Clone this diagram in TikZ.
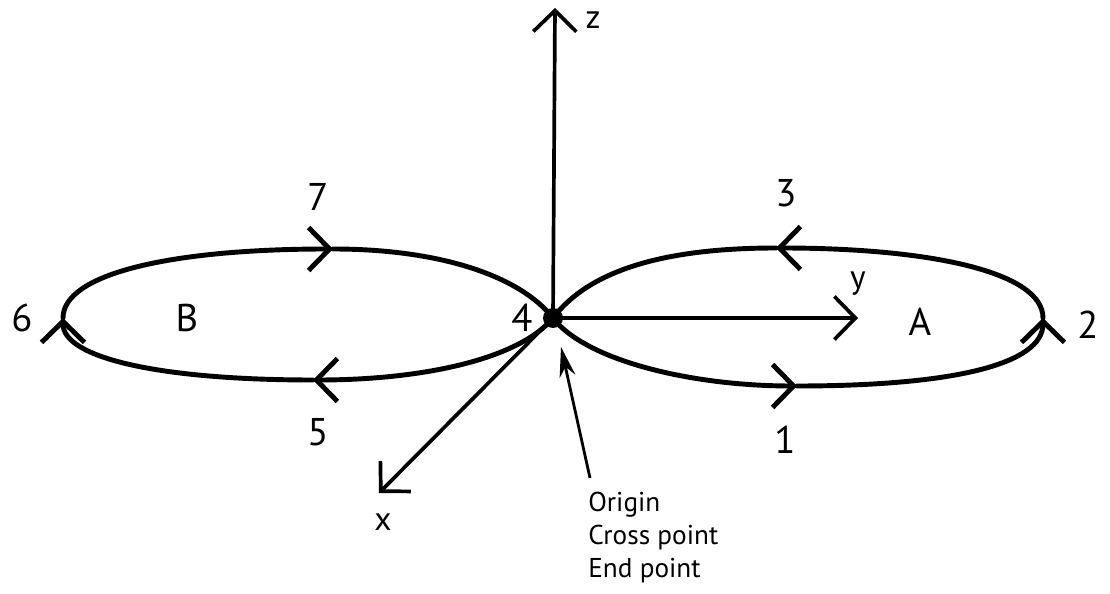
\documentclass[tikz,border=0pt]{standalone}
\usepackage{fontspec}
\setmainfont{PT Sans}
\usetikzlibrary{arrows.meta}
\tikzset{
  chev/.tip={Straight Barb[length=0.42cm,width=0.86cm]},
  curve/.style={line width=2.8pt, line cap=round, line join=round},
  axis/.style={line width=2.1pt, -chev},
  lbl/.style={font=\fontsize{22}{26}\selectfont, inner sep=0pt},
  axlbl/.style={font=\fontsize{19}{22}\selectfont, inner sep=0pt},
  note/.style={font=\fontsize{15.5}{18.7}\selectfont, align=left, inner sep=0pt}
}
\begin{document}
\begin{tikzpicture}[x=0.02cm, y=-0.02cm]
\useasboundingbox (0,0) rectangle (1110,594);
\coordinate (O) at (553,318);
\coordinate (a1) at (797,386);
\coordinate (a2) at (1043,318);
\coordinate (a3) at (776,248);
\coordinate (b5) at (313,380);
\coordinate (b6) at (63,318);
\coordinate (b7) at (333,249);
\coordinate (zend) at (555,8);
\coordinate (yend) at (858,318);
\coordinate (xend) at (379,493);
\coordinate (ptr) at (590,478);

\draw[curve, -chev] (O) .. controls (585,360) and (690,386) .. (a1);
\draw[curve, -chev] (a1) .. controls (950,386) and (1043,365) .. (a2);
\draw[curve, -chev] (a2) .. controls (1043,272) and (930,248) .. (a3);
\draw[curve] (a3) .. controls (660,248) and (588,272) .. (O);
\draw[curve, -chev] (O) .. controls (518,360) and (420,380) .. (b5);
\draw[curve, -chev] (b5) .. controls (160,380) and (63,358) .. (b6);
\draw[curve, -chev] (b6) .. controls (63,274) and (170,249) .. (b7);
\draw[curve] (b7) .. controls (440,249) and (520,276) .. (O);

\draw[axis] (O) -- (zend);
\draw[axis] (O) -- (yend);
\draw[axis] (O) -- (xend);
\fill (O) circle (10);
\draw[line width=1.6pt, -{Stealth[length=0.6cm,width=0.32cm]}] (ptr) -- (561,347);

\node[axlbl] (zl) at (593,20) {z};
\node[axlbl] (yl) at (858,284) {y};
\node[axlbl] (xl) at (383,522) {x};
\node[lbl] (l7) at (318,197) {7};
\node[lbl] (l3) at (786,193) {3};
\node[lbl] (l6) at (22,318) {6};
\node[lbl] (l2) at (1088,325) {2};
\node[lbl] (l5) at (318,432) {5};
\node[lbl] (l1) at (785,440) {1};
\node[lbl] (l4) at (522,318) {4};
\node[lbl] (lB) at (187,318) {B};
\node[lbl] (lA) at (920,322) {A};
\node[note, anchor=north west] (orig) at (588,492) {Origin\\Cross point\\End point};
\end{tikzpicture}
\end{document}
